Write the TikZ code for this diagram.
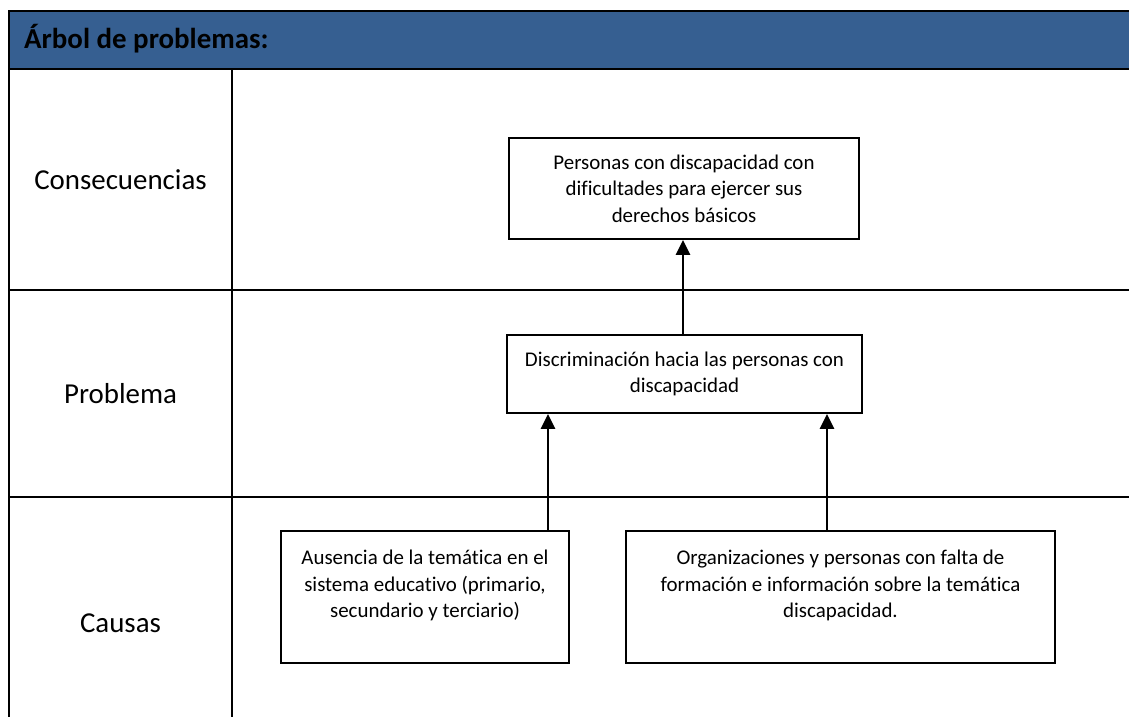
\documentclass[tikz,border=0pt]{standalone}
\usepackage{fontspec}
\setmainfont[Ligatures=NoCommon]{Carlito}
\usetikzlibrary{arrows.meta}
\definecolor{hdr}{RGB}{54,95,145}
\begin{document}
\begin{tikzpicture}[x=1bp,y=-1bp,
  rule/.style={line width=2.6bp},
  box/.style={draw, line width=1.9bp, align=center, font=\fontsize{21}{26.5}\selectfont, inner sep=0pt},
  lab/.style={font=\fontsize{29}{34}\selectfont, anchor=base},
  arr/.style={line width=2.6bp, -{Triangle[length=15bp,width=14bp]}}]
\useasboundingbox (0,0) rectangle (1129,717);
\fill[hdr] (9,11) rectangle (1129,69);
\draw[rule] (1129,11) -- (9,11) -- (9,717);
\draw[rule] (9,69) -- (1129,69);
\draw[rule] (232,69) -- (232,717);
\draw[rule] (9,290) -- (1129,290);
\draw[rule] (9,497) -- (1129,497);
\node[font=\bfseries\fontsize{29}{34}\selectfont, anchor=base west, inner sep=0pt] (title) at (24,49) {Árbol de problemas:};
\node[lab] (lcons) at (120.5,190) {Consecuencias};
\node[lab] (lprob) at (120.5,403) {Problema};
\node[lab] (lcaus) at (120.5,632) {Causas};
\node[box, minimum width=350bp, minimum height=101bp] (cons) at (684,188.5)
  {Personas con discapacidad con\\ dificultades para ejercer sus\\ derechos básicos};
\node[box, minimum width=355bp, minimum height=78bp] (prob) at (684.5,374)
  {Discriminación hacia las personas con\\ discapacidad};
\node[box, minimum width=288bp, minimum height=132bp] (c1) at (425,597)
  {Ausencia de la temática en el\\ sistema educativo (primario,\\ secundario y terciario)\\ \mbox{}};
\node[box, minimum width=429bp, minimum height=132bp] (c2) at (840.5,597)
  {Organizaciones y personas con falta de\\ formación e información sobre la temática\\ discapacidad.\\ \mbox{}};
\coordinate (ax0) at (683,0);
\coordinate (ax1) at (548,0);
\coordinate (ax2) at (827,0);
\draw[arr] (prob.north -| ax0) -- (cons.south -| ax0);
\draw[arr] (c1.north -| ax1) -- (prob.south -| ax1);
\draw[arr] (c2.north -| ax2) -- (prob.south -| ax2);
\end{tikzpicture}
\end{document}
